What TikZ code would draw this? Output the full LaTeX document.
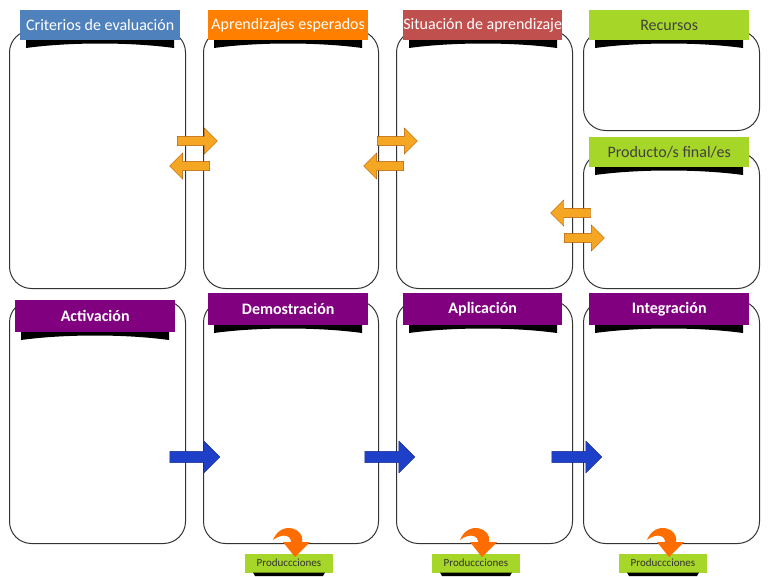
\documentclass[tikz,border=0pt]{standalone}
\usepackage{fontspec}
\setmainfont{Carlito}
\usetikzlibrary{shapes.arrows}
\definecolor{cblue}{HTML}{4F81BD}
\definecolor{corange}{HTML}{FF8000}
\definecolor{cred}{HTML}{C0504D}
\definecolor{cgreen}{HTML}{A6D627}
\definecolor{cpurple}{HTML}{800080}
\definecolor{arrOr}{HTML}{F5A623}
\definecolor{arrBl}{HTML}{1E3FC8}
\begin{document}
\begin{tikzpicture}[x=1pt,y=-1pt,
  box/.style={draw=black!80,line width=1pt,rounded corners=22pt,anchor=north west,inner sep=0pt},
  hdr/.style={anchor=north west,inner sep=0pt,text=white,font=\fontsize{16}{18}\selectfont,align=center},
  hdrb/.style={anchor=north west,inner sep=0pt,text=white,font=\bfseries\fontsize{16}{18}\selectfont,align=center},
  oarr/.style={single arrow,draw=orange!70!black,fill=arrOr,minimum height=40pt,minimum width=26pt,single arrow head extend=4pt,inner sep=2pt},
  barr/.style={single arrow,draw=arrBl!70!black,fill=arrBl,minimum height=50pt,minimum width=32pt,single arrow head extend=6pt,inner sep=3pt},
  prod/.style={fill=cgreen,minimum width=88pt,minimum height=19pt,inner sep=0pt,font=\fontsize{11}{12}\selectfont,text=black!80}]
\useasboundingbox (0,0) rectangle (768,576);
% boxes
\node[box,minimum width=176pt,minimum height=258pt] (b1) at (9,30) {};
\node[box,minimum width=175pt,minimum height=258pt] (b2) at (203,30) {};
\node[box,minimum width=176pt,minimum height=258pt] (b3) at (396,30) {};
\node[box,minimum width=176pt,minimum height=100pt] (b4) at (583,30) {};
\node[box,minimum width=176pt,minimum height=136pt] (b5) at (583,152) {};
\node[box,minimum width=176pt,minimum height=243pt] (c1) at (9,300) {};
\node[box,minimum width=175pt,minimum height=243pt] (c2) at (203,300) {};
\node[box,minimum width=176pt,minimum height=243pt] (c3) at (396,300) {};
\node[box,minimum width=176pt,minimum height=243pt] (c4) at (583,300) {};
% header shadows
\foreach \x/\y in {20/40,208/40,403/40,589/40,589/167,15/332,208/325,403/325,589/325}{
  \fill[black] (\x+6,\y) -- (\x+154,\y) -- (\x+154,\y+8) .. controls (\x+110,\y+2) and (\x+50,\y+2) .. (\x+6,\y+8) -- cycle;
}
\node[hdr,fill=cblue,minimum width=160pt,minimum height=30pt] (h1) at (20,10) {Criterios de evaluación};
\node[hdr,fill=corange,minimum width=160pt,minimum height=30pt] (h2) at (208,10) {Aprendizajes esperados};
\node[hdr,fill=cred,minimum width=159pt,minimum height=30pt] (h3) at (403,10) {Situación de aprendizaje};
\node[hdr,fill=cgreen,text=black!75,minimum width=160pt,minimum height=30pt] (h4) at (589,10) {Recursos};
\node[hdr,fill=cgreen,text=black!75,minimum width=160pt,minimum height=30pt] (h5) at (589,137) {Producto/s final/es};
\node[hdrb,fill=cpurple,minimum width=160pt,minimum height=32pt] (h6) at (15,300) {Activación};
\node[hdrb,fill=cpurple,minimum width=160pt,minimum height=32pt] (h7) at (208,293) {Demostración};
\node[hdrb,fill=cpurple,minimum width=159pt,minimum height=32pt] (h8) at (403,293) {Aplicación};
\node[hdrb,fill=cpurple,minimum width=160pt,minimum height=32pt] (h9) at (589,293) {Integración};
% orange double arrows
\node[oarr] (a1) at (195,141) {};
\node[oarr,shape border rotate=180] (a2) at (192,166) {};
\node[oarr] (a3) at (395,141) {};
\node[oarr,shape border rotate=180] (a4) at (386,166) {};
\node[oarr,shape border rotate=180] (a5) at (573,213) {};
\node[oarr] (a6) at (582,238) {};
% blue arrows
\node[barr] (p1) at (192,457) {};
\node[barr] (p2) at (387,457) {};
\node[barr] (p3) at (574,457) {};
% producciones
\foreach \x/\n in {289/q1,476/q2,663/q3}{
  \node[prod] (\n) at (\x,563) {Produccciones};
  \fill[black] (\x-36,572.5) -- (\x+36,572.5) -- (\x+34,576) -- (\x-34,576) -- cycle;
  \fill[orange!85!red] (\x-16,540) .. controls (\x-8,520) and (\x+16,528) .. (\x+13,542)
     -- (\x+21,542) -- (\x+6,557) -- (\x-6,542) -- (\x+2,542)
     .. controls (\x+2,535) and (\x-7,533) .. (\x-16,540) -- cycle;
}
\end{tikzpicture}
\end{document}
